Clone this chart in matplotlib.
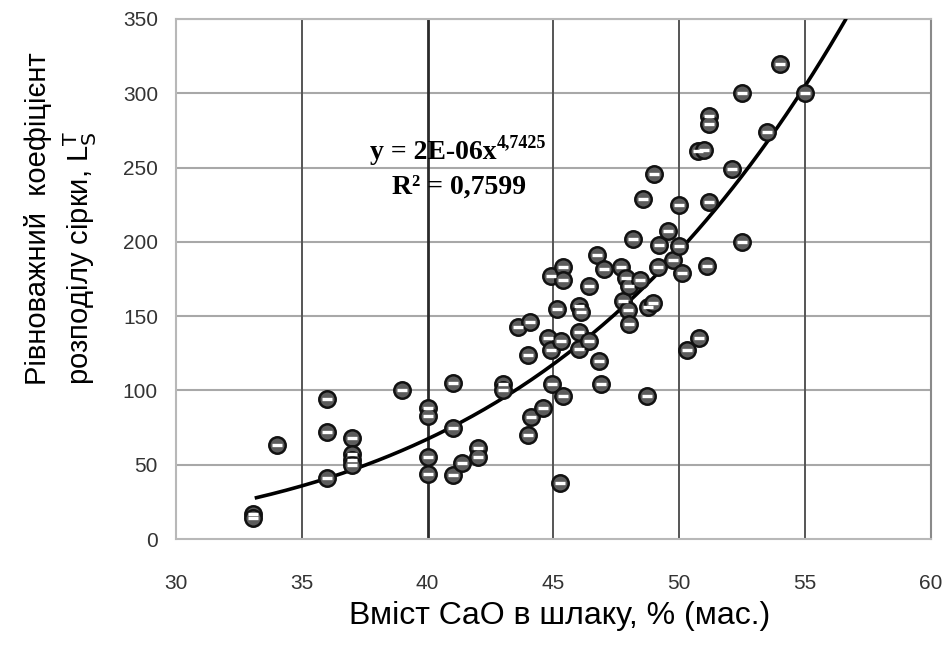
import numpy as np
import matplotlib
matplotlib.use("Agg")
import matplotlib.pyplot as plt

# CaO content in slag, % (mass)
cao = [33.05, 33.05, 34.0, 36.0, 36.0, 36.0, 37.0, 37.0, 37.0, 37.0,
       39.0, 40.0, 40.0, 40.0, 40.0, 41.0, 41.0, 41.0, 41.35, 42.0,
       42.0, 43.0, 43.0, 43.6, 44.05, 44.0, 44.1, 44.0, 44.6, 44.8,
       44.9, 44.95, 44.9, 45.4, 45.4, 45.15, 45.3, 45.4, 45.25, 46.0,
       46.1, 46.0, 46.0, 46.4, 46.4, 46.75, 47.0, 46.8, 46.9, 47.7,
       47.9, 47.75, 47.95, 48.0, 48.0, 48.15, 48.45, 48.55, 48.7, 48.75,
       48.95, 49.0, 49.2, 49.15, 49.75, 49.55, 50.0, 50.0, 50.1, 50.3,
       50.75, 51.0, 50.8, 51.2, 51.2, 51.2, 51.1, 52.1, 52.5, 52.5,
       53.5, 54.0, 55.0]
# sulphur distribution coefficient L_S^T
ls = [17, 14, 63, 94, 72, 41, 68, 57, 53, 50,
      100, 88, 83, 55, 44, 105, 75, 43, 51, 61,
      55, 104, 100, 143, 146, 124, 82, 70, 88, 135,
      127, 104, 177, 183, 174, 155, 133, 96, 38, 157,
      153, 139, 128, 133, 170, 191, 182, 120, 104, 183,
      176, 160, 154, 145, 170, 202, 174, 229, 96, 156,
      159, 246, 198, 183, 188, 207, 225, 197, 179, 127,
      261, 262, 135, 285, 279, 227, 184, 249, 300, 200,
      274, 320, 300]

# power trend line y = a * x^b
trend_a = 1.7e-6
trend_b = 4.7425
trend_x0, trend_x1 = 33.2, 56.6

xticks = [30, 35, 40, 45, 50, 55, 60]
yticks = [0, 50, 100, 150, 200, 250, 300, 350]

sans = ["Liberation Sans", "DejaVu Sans"]
serif = ["Liberation Serif", "DejaVu Serif"]

fig = plt.figure(figsize=(9.46, 6.46), dpi=100)
ax = fig.add_axes([0.186, 0.1656, 0.798, 0.805])

ax.set_xlim(30, 60)
ax.set_ylim(0, 350)
ax.set_xticks(xticks)
ax.set_yticks(yticks)

# grid: light horizontal, darker vertical
for y in yticks[1:]:
    ax.axhline(y, color="#a8a8a8", lw=1.5, zorder=1)
for x in xticks[1:-1]:
    ax.axvline(x, color="#2a2a2a" if x == 40 else "#555555",
               lw=2.0 if x == 40 else 1.4, zorder=1)

for side in ["left", "bottom", "top"]:
    ax.spines[side].set_color("#b8b8b8")
    ax.spines[side].set_linewidth(1.5)
ax.spines["right"].set_color("#8a8a8a")
ax.spines["right"].set_linewidth(1.5)

ax.tick_params(length=0, labelsize=15, labelcolor="#333333")
ax.tick_params(axis="x", pad=25)
ax.tick_params(axis="y", pad=13)
for lab in ax.get_xticklabels() + ax.get_yticklabels():
    lab.set_family(sans)

xs = np.linspace(trend_x0, trend_x1, 200)
ax.plot(xs, trend_a * xs ** trend_b, color="black", lw=2.6, zorder=3)

ax.scatter(cao, ls, s=140, facecolor="#5c5c5c", edgecolor="#111111",
           linewidth=1.8, zorder=4)
ax.scatter(cao, ls, s=45, marker="_", color="white", linewidth=2.4,
           zorder=5)

eq = ax.text(42.75, 260, "y = 2E-06x", ha="right", va="center",
             fontsize=20, fontweight="bold", family=serif, zorder=6)
ax.annotate("4,7425", xy=(1.0, 0.55), xycoords=eq, ha="left", va="bottom",
            fontsize=13, fontweight="bold", family=serif, zorder=6)
ax.text(41.25, 237, "R² = 0,7599", ha="center", va="center", fontsize=20,
        fontweight="bold", family=serif, zorder=6)

fig.text(0.592, 0.047, "Вміст CaO в шлаку, % (мас.)", ha="center",
         va="center", fontsize=23, family=sans)
fig.text(0.040, 0.404, "Рівноважний  коефіцієнт", rotation=90,
         rotation_mode="anchor", ha="left", va="center", fontsize=21,
         family=sans)
fig.text(0.085, 0.404, "розподілу сірки, L$_{\\mathrm{S}}^{\\mathrm{T}}$",
         rotation=90, rotation_mode="anchor", ha="left", va="center",
         fontsize=21, family=sans)

fig.savefig("out.png", dpi=100, facecolor="white")
